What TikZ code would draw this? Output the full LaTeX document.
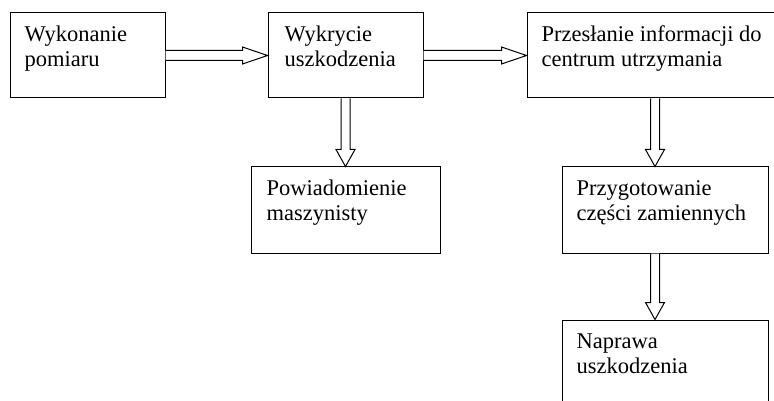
\documentclass[tikz,border=0pt]{standalone}
\usepackage{fontspec}
\setmainfont{Liberation Serif}
\usetikzlibrary{calc}
\tikzset{
  box/.style={draw, line width=1pt, inner sep=0pt, rectangle},
  txt/.style={anchor=base west, align=left, inner sep=0pt, font=\fontsize{22.5}{25.5}\selectfont},
  arr/.style={draw, line width=1pt, fill=white, line join=miter}
}
\newcommand\harr[2]{%
  \draw[arr] let \p1=(#1), \p2=(#2) in
    (\x1,\y1+5pt) -- (\x2-25pt,\y1+5pt) -- (\x2-25pt,\y1+8.5pt) -- (\x2,\y1)
    -- (\x2-25pt,\y1-8.5pt) -- (\x2-25pt,\y1-5pt) -- (\x1,\y1-5pt);}
\newcommand\varr[2]{%
  \draw[arr] let \p1=(#1), \p2=(#2) in
    (\x1-4.5pt,\y1) -- (\x1-4.5pt,\y2+17pt) -- (\x1-9.5pt,\y2+17pt) -- (\x1,\y2)
    -- (\x1+9.5pt,\y2+17pt) -- (\x1+4.5pt,\y2+17pt) -- (\x1+4.5pt,\y1);}
\begin{document}
\begin{tikzpicture}[x=1pt,y=-1pt]
\useasboundingbox (0,0) rectangle (774,401);
\node[box, minimum width=155pt, minimum height=85pt] (b1) at (87.5,55.5) {};
\node[box, minimum width=155pt, minimum height=85pt] (b2) at (345.5,55.5) {};
\node[box, minimum width=256pt, minimum height=85pt] (b3) at (655,55.5) {};
\node[box, minimum width=189pt, minimum height=86pt] (b4) at (345.5,210) {};
\node[box, minimum width=206pt, minimum height=86pt] (b5) at (665,210) {};
\node[box, minimum width=206pt, minimum height=86pt] (b6) at (665,363) {};

\node[txt] (t1) at ($(b1.north west)+(15,54.5)$) {Wykonanie\\pomiaru};
\node[txt] (t2) at ($(b2.north west)+(17,54.5)$) {Wykrycie\\uszkodzenia};
\node[txt] (t3) at ($(b3.north west)+(15,54.5)$) {Przesłanie informacji do\\centrum utrzymania};
\node[txt] (t4) at ($(b4.north west)+(16,54)$) {Powiadomienie\\maszynisty};
\node[txt] (t5) at ($(b5.north west)+(15,54)$) {Przygotowanie\\części zamiennych};
\node[txt] (t6) at ($(b6.north west)+(15,54)$) {Naprawa\\uszkodzenia};

\coordinate (c3) at (b3.south);
\coordinate (c5n) at (b3.south |- b5.north);
\coordinate (c5s) at (b3.south |- b5.south);
\coordinate (c6n) at (b3.south |- b6.north);

\harr{b1.east}{b2.west}
\harr{b2.east}{b3.west}
\varr{b2.south}{b4.north}
\varr{c3}{c5n}
\varr{c5s}{c6n}
\end{tikzpicture}
\end{document}
